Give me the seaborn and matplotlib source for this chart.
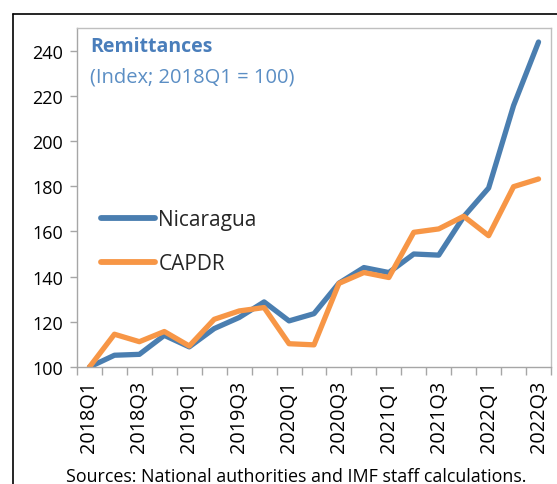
import matplotlib
matplotlib.use("Agg")
import matplotlib.pyplot as plt
from matplotlib.lines import Line2D
import seaborn as sns
import pandas as pd
import numpy as np

quarters = [f"{y}Q{q}" for y in range(2018, 2023) for q in range(1, 5)][:19]
nicaragua = [100, 105.2, 105.6, 114.0, 108.9, 117.0, 121.9, 128.8, 120.4, 123.6,
             137.1, 144.0, 141.8, 150.0, 149.5, 166.5, 179.2, 215.7, 243.8]
capdr = [100, 114.5, 111.2, 115.7, 109.3, 121.1, 124.8, 126.3, 110.3, 109.8,
         137.0, 141.8, 139.6, 159.6, 161.1, 166.7, 158.1, 179.8, 183.2]
series_names = ["Nicaragua", "CAPDR"]
yticks = [100, 120, 140, 160, 180, 200, 220, 240]

df = pd.DataFrame({
    "quarter": quarters * 2,
    "pos": list(range(len(quarters))) * 2,
    "value": nicaragua + capdr,
    "series": [series_names[0]] * len(quarters) + [series_names[1]] * len(quarters),
})

sns.set_theme(style="white")
plt.rcParams['font.family'] = ['Open Sans', 'DejaVu Sans']

fig = plt.figure(figsize=(5.57, 4.85), dpi=100)
W, H = 557, 485
ax = fig.add_axes([77 / W, 1 - 368 / H, (551 - 77) / W, (368 - 29) / H])

palette = {"Nicaragua": "#4A7EB0", "CAPDR": "#F79646"}
sns.lineplot(data=df, x="pos", y="value", hue="series", palette=palette,
             linewidth=3.8, ax=ax, legend=True, solid_capstyle="round")

ax.set_xlim(-0.5, len(quarters) - 0.5)
ax.set_ylim(100, 250)
ax.set_yticks(yticks)
ax.set_yticklabels([str(t) for t in yticks], fontsize=13, color="black")
ax.set_xticks(range(0, len(quarters), 2))
ax.set_xticklabels(quarters[::2], rotation=90, fontsize=14.3, color="black")
ax.set_xticks(np.arange(-0.5, len(quarters), 1), minor=True)
ax.tick_params(axis="x", which="major", length=0, pad=9)
ax.tick_params(axis="x", which="minor", length=6, color="#A6A6A6", width=1, direction="out")
ax.tick_params(axis="y", which="major", length=5, color="#A6A6A6", width=1, direction="out", pad=5)
ax.xaxis.set_ticks_position("bottom")
ax.yaxis.set_ticks_position("left")
ax.set_xlabel("")
ax.set_ylabel("")
for s in ax.spines.values():
    s.set_color("#BFBFBF")
    s.set_linewidth(1)
ax.spines["bottom"].set_color("#A6A6A6")
ax.spines["left"].set_color("#A6A6A6")
ax.grid(False)

leg = ax.legend(loc="center left", bbox_to_anchor=(0.011, 0.37), frameon=False,
                fontsize=15, handlelength=2.6, handletextpad=0.15, labelspacing=1.08)
for line in leg.get_lines():
    line.set_linewidth(4.2)
    line.set_solid_capstyle("round")

ax.text(0.027, 0.975, "Remittances", transform=ax.transAxes, fontsize=14,
        fontweight="bold", color="#4A7EBB", va="top", ha="left")
ax.text(0.027, 0.885, "(Index; 2018Q1 = 100)", transform=ax.transAxes, fontsize=14.5,
        color="#5B8EC4", va="top", ha="left")

fig.text(296 / W, 1 - 477 / H, "Sources: National authorities and IMF staff calculations.",
         fontsize=12.9, ha="center", va="center", color="black")

fig.add_artist(Line2D([13 / W, 1], [1 - 15 / H, 1 - 15 / H], color="black", linewidth=1.2,
                      transform=fig.transFigure))
fig.add_artist(Line2D([13 / W, 13 / W], [0, 1 - 15 / H], color="black", linewidth=1.2,
                      transform=fig.transFigure))

fig.savefig("out.png", dpi=100)
